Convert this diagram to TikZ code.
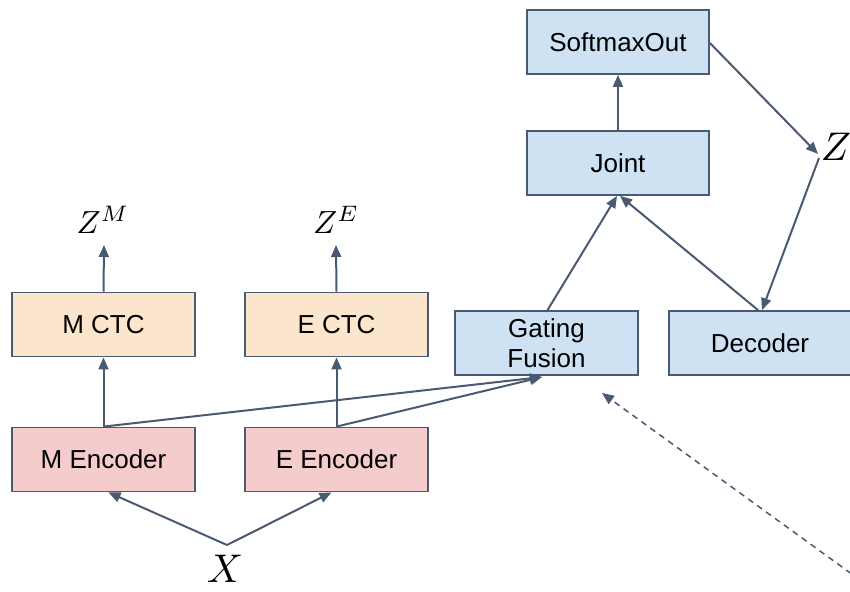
\documentclass[tikz,border=0pt]{standalone}
\usepackage{fontspec}
\setmainfont{Liberation Sans}
\usetikzlibrary{arrows.meta}
\definecolor{edge}{HTML}{4A5A72}
\definecolor{bluebox}{HTML}{CFE2F3}
\definecolor{orangebox}{HTML}{FCE5CD}
\definecolor{redbox}{HTML}{F4CCCC}
\newcommand{\smallsym}[1]{\scalebox{3.2}{$#1$}}
\newcommand{\bigsym}[1]{\scalebox{4.0}{$#1$}}
\tikzset{
  block/.style={draw=edge, line width=1.8pt, minimum width=182pt, minimum height=64pt,
    inner sep=0pt, font=\fontsize{26}{30}\selectfont, align=center},
  blueblk/.style={block, fill=bluebox},
  orangeblk/.style={block, fill=orangebox},
  redblk/.style={block, fill=redbox},
  conn/.style={draw=edge, line width=2pt, -{Triangle[length=12pt,width=10pt]}},
  mathlabel/.style={inner sep=0pt},
}
\begin{document}
\begin{tikzpicture}[x=1pt,y=-1pt]
\useasboundingbox (0,0) rectangle (850,591);

% right column: output stack
\node[blueblk] (soft) at (618,42) {SoftmaxOut};
\node[blueblk] (joint) at (618,163) {Joint};
\node[blueblk, minimum width=183pt] (gf) at (546.5,343) {Gating\\Fusion};
\node[blueblk] (dec) at (760,343) {Decoder};

% left column: CTC heads and encoders
\node[orangeblk, minimum width=183pt] (mctc) at (103.5,324.5) {M CTC};
\node[orangeblk, minimum width=183pt] (ectc) at (336.5,324.5) {E CTC};
\node[redblk, minimum width=183pt] (menc) at (103.5,459.5) {M Encoder};
\node[redblk, minimum width=183pt] (eenc) at (336.5,459.5) {E Encoder};

% math labels
\node[mathlabel] (zm) at (103,220) {\smallsym{Z^M}};
\node[mathlabel] (ze) at (336,220) {\smallsym{Z^E}};
\node[mathlabel] (x) at (225,569) {\bigsym{X}};
\node[mathlabel] (z) at (836,147) {\bigsym{Z}};

% connector end points
\coordinate (zmtip) at (104,245);
\coordinate (zetip) at (336,245);
\coordinate (gfin) at (542,377);
\coordinate (xv) at (227,545);
\coordinate (zin) at (818,154);
\coordinate (zout) at (819,158);
\coordinate (dashstart) at (860,580);
\coordinate (dashtip) at (602,393);

% CTC outputs
\draw[conn] (mctc.north) -- (zmtip);
\draw[conn] (ectc.north) -- (zetip);

% encoders to CTC heads and fusion
\draw[conn] (menc.north) -- (mctc.south);
\draw[conn] (eenc.north) -- (ectc.south);
\draw[conn] (menc.north) -- (gfin);
\draw[conn] (eenc.north) -- (gfin);

% input to encoders
\draw[conn] (xv) -- ([xshift=5pt]menc.south);
\draw[conn] (xv) -- ([xshift=-5pt]eenc.south);

% fusion and decoder into joint network
\draw[conn] ([xshift=1pt]gf.north) -- ([xshift=-1pt]joint.south);
\draw[conn] ([xshift=-2pt]dec.north) -- ([xshift=2pt]joint.south);
\draw[conn] (joint.north) -- (soft.south);

% output feedback loop through Z
\draw[conn] ([yshift=-1pt]soft.east) -- (zin);
\draw[conn] (zout) -- ([xshift=2pt]dec.north);

% dashed incoming arrow
\draw[conn, line width=1.5pt, dash pattern=on 6pt off 5pt] (dashstart) -- (dashtip);
\end{tikzpicture}
\end{document}
